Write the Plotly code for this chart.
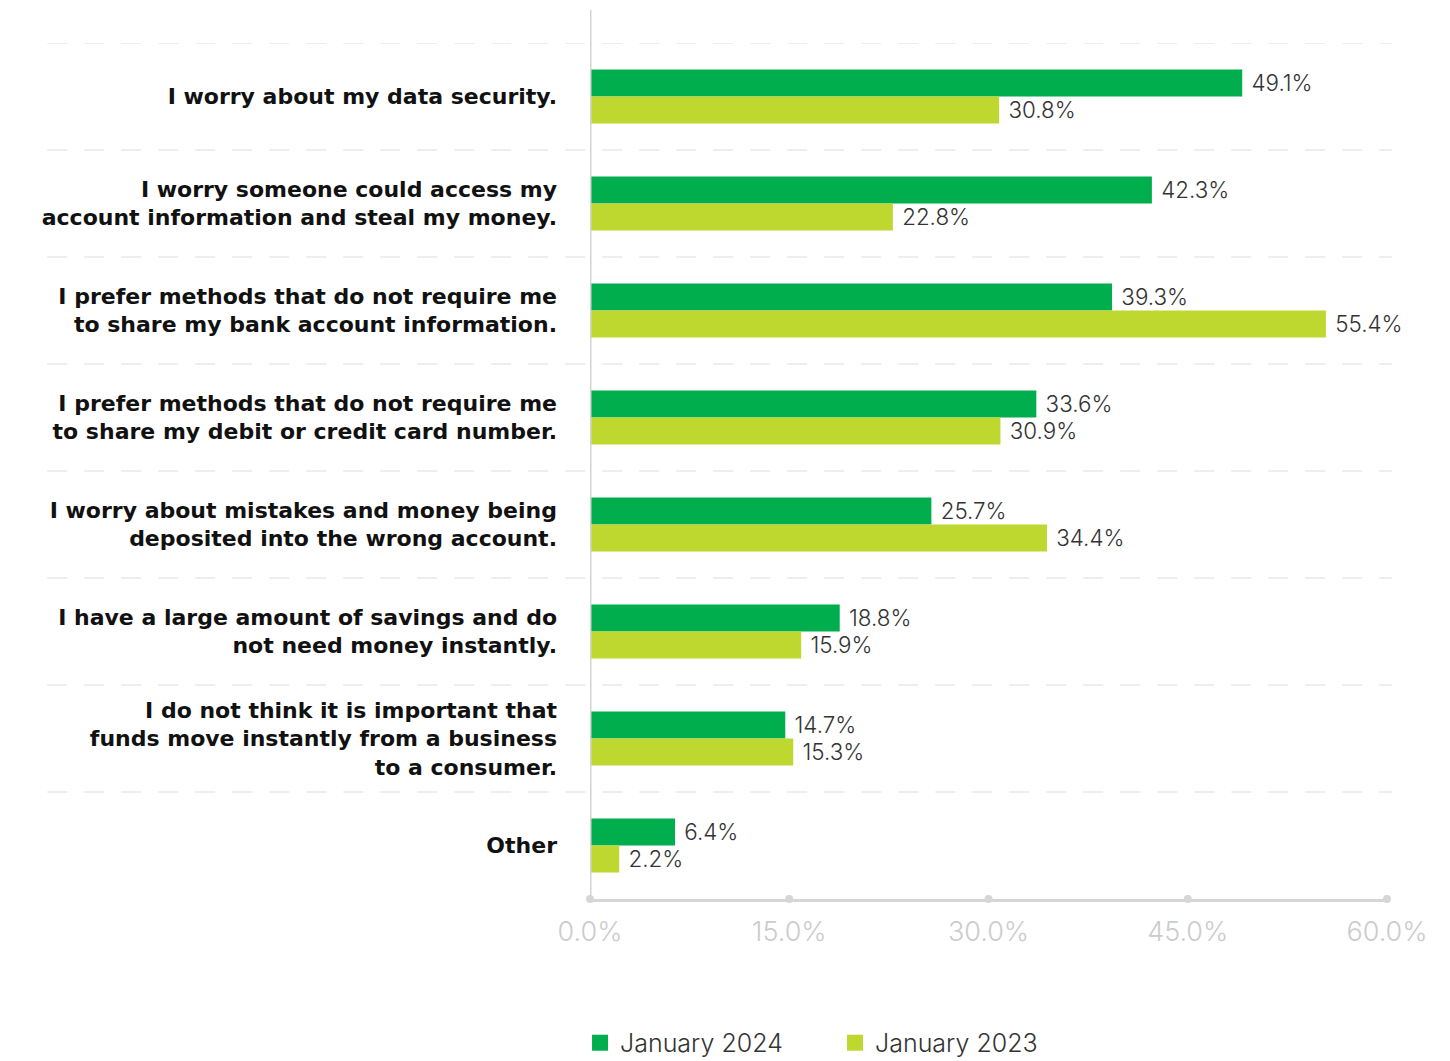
import plotly.graph_objects as go

categories = [
    "I worry about my data security.",
    "I worry someone could access my<br>account information and steal my money.",
    "I prefer methods that do not require me<br>to share my bank account information.",
    "I prefer methods that do not require me<br>to share my debit or credit card number.",
    "I worry about mistakes and money being<br>deposited into the wrong account.",
    "I have a large amount of savings and do<br>not need money instantly.",
    "I do not think it is important that<br>funds move instantly from a business<br>to a consumer.",
    "Other",
]
jan_2024 = [49.1, 42.3, 39.3, 33.6, 25.7, 18.8, 14.7, 6.4]
jan_2023 = [30.8, 22.8, 55.4, 30.9, 34.4, 15.9, 15.3, 2.2]
series_names = ["January 2024", "January 2023"]
x_ticks = [0, 15, 30, 45, 60]
x_tick_labels = ["0.0%", "15.0%", "30.0%", "45.0%", "60.0%"]

colors = ["#00AE4D", "#BED830"]
FONT = "Inter"
LABEL_FONT = "DejaVu Sans"

fig = go.Figure()
for name, vals, col in zip(series_names, [jan_2024, jan_2023], colors):
    fig.add_trace(go.Bar(
        y=categories, x=vals, name=name, orientation="h",
        marker=dict(color=col, line=dict(width=0)),
        text=[f" {v:.1f}%" for v in vals], textposition="outside",
        textfont=dict(family=FONT, size=24, color="#333333", weight=300),
        cliponaxis=False, showlegend=False,
    ))

# legend entries (square swatches)
for name, col in zip(series_names, colors):
    fig.add_trace(go.Scatter(
        x=[None], y=[None], name=name, mode="markers",
        marker=dict(symbol="square", color=col, size=20),
        showlegend=True,
    ))

# tick dots on the bottom axis
fig.add_trace(go.Scatter(
    x=x_ticks, y=[0] * len(x_ticks), yaxis="y2", mode="markers",
    marker=dict(color="#d6d6d6", size=8), showlegend=False,
    hoverinfo="skip", cliponaxis=False,
))

shapes = []
for i in range(len(categories)):
    shapes.append(dict(
        type="line", xref="paper", yref="y",
        x0=-0.681, x1=1.006, y0=i - 0.5, y1=i - 0.5,
        line=dict(color="#dedede", width=1.2, dash="20px,17px"), layer="below",
    ))
shapes.append(dict(
    type="line", xref="x", yref="paper", x0=0, x1=0, y0=-0.003, y1=1.0386,
    line=dict(color="#d4d4d4", width=3),
))

fig.update_layout(
    width=1450, height=1061,
    margin=dict(l=590, r=63, t=43, b=162, autoexpand=False),
    paper_bgcolor="white", plot_bgcolor="white",
    barmode="group", bargap=0.495, bargroupgap=0,
    font=dict(family=FONT, color="#111111"),
    shapes=shapes,
    xaxis=dict(
        range=[0, 60], tickvals=x_ticks, ticktext=x_tick_labels,
        showgrid=False, zeroline=False, showline=True,
        linecolor="#d6d6d6", linewidth=3,
        tickfont=dict(family=FONT, size=27, color="#cccccc", weight=300),
        ticks="", ticklabelstandoff=7,
    ),
    yaxis=dict(
        type="category", range=[7.5, -0.5], showgrid=False, zeroline=False,
        showline=False, ticks="", ticklabelstandoff=32,
        tickfont=dict(family=LABEL_FONT, size=22, color="#111111", weight="bold"),
    ),
    yaxis2=dict(overlaying="y", range=[0, 1], visible=False, fixedrange=True),
    legend=dict(
        orientation="h", x=-0.0125, xanchor="left",
        yref="container", y=0.017, yanchor="middle",
        font=dict(family=FONT, size=25, color="#333333", weight=300),
        traceorder="normal", entrywidth=210,
    ),
    showlegend=True,
)

fig.write_html("out.html")
